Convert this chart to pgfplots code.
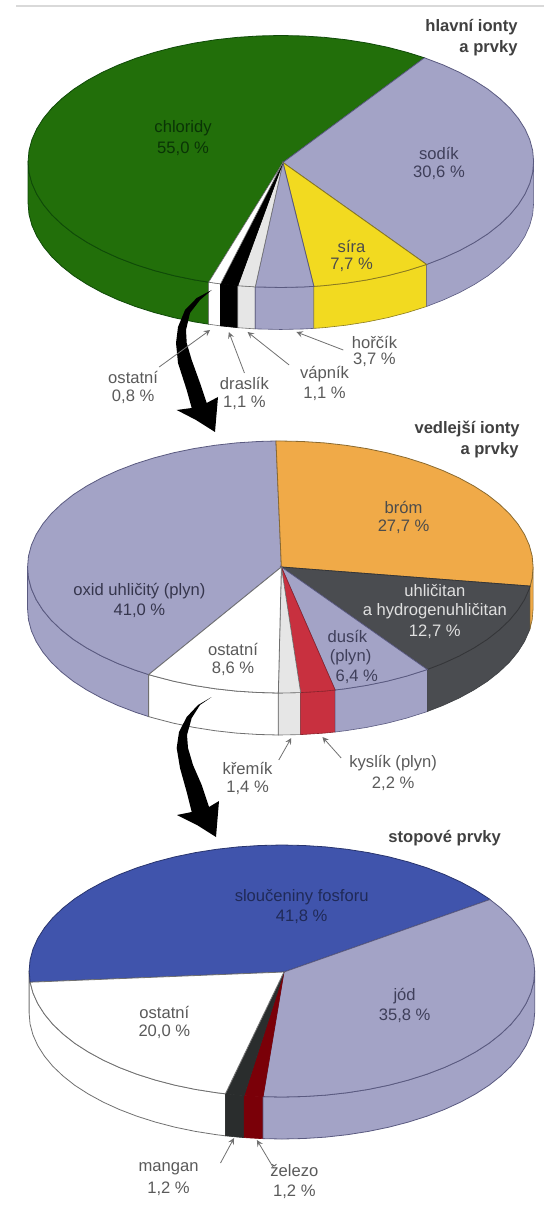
\documentclass[border=0pt]{standalone}
\usepackage{fontspec}
\setmainfont{Liberation Sans}
\usepackage{pgfplots}
\pgfplotsset{compat=1.18}
\definecolor{cgreen}{HTML}{226F0A}
\definecolor{cgreenl}{HTML}{0F4A08}
\definecolor{clil}{HTML}{A3A3C6}
\definecolor{clill}{HTML}{5A5A80}
\definecolor{cyel}{HTML}{F2DA20}
\definecolor{cyell}{HTML}{8A7A20}
\definecolor{corg}{HTML}{F0AA48}
\definecolor{corgl}{HTML}{8A6A30}
\definecolor{cdark}{HTML}{4A4C50}
\definecolor{cred}{HTML}{C8303F}
\definecolor{cblue}{HTML}{4054AC}
\definecolor{cbluel}{HTML}{28346E}
\definecolor{cdred}{HTML}{7A0008}
\definecolor{cblk}{HTML}{2A2D2D}
\definecolor{clgt}{HTML}{E6E6E6}
\definecolor{cline}{HTML}{707070}
\definecolor{ctxt}{HTML}{5A5A5A}
\pgfplotsset{page/.style={at={(0,0)},anchor=south west,scale only axis,width=272pt,height=606.5pt,hide axis,clip=false,y dir=reverse}}
\tikzset{lbl/.style={font=\fontsize{8.3}{9}\selectfont,text=ctxt,inner sep=0pt,anchor=center},
 ttl/.style={font=\fontsize{8.3}{9}\selectfont\bfseries,text=black!75,inner sep=0pt,anchor=east}}
\begin{document}
\begin{tikzpicture}
\useasboundingbox (0,0) rectangle (272pt,606.5pt);
% ---------- pie 1
\begin{axis}[page,xmin=-270,xmax=253,ymin=-161.5,ymax=1051.5]
\addplot[fill=cgreen,draw=cgreenl,line width=.4pt] coordinates {(-69.4,120.7)(-83.1,118.4)(-102.7,114.2)(-121.5,109.1)(-139.4,103.2)(-156.2,96.5)(-171.8,89.1)(-186.1,81)(-199.1,72.3)(-210.4,63)(-220.2,53.3)(-228.3,43.1)(-234.7,32.6)(-239.3,21.9)(-242.1,11)(-243,0)(-243,42)(-242.1,53)(-239.3,63.9)(-234.7,74.6)(-228.3,85.1)(-220.2,95.3)(-210.4,105)(-199.1,114.3)(-186.1,123)(-171.8,131.1)(-156.2,138.5)(-139.4,145.2)(-121.5,151.1)(-102.7,156.2)(-83.1,160.4)(-69.4,162.7)} -- cycle;
\addplot[fill=white,draw=cline,line width=.3pt] coordinates {(-69.4,120.7)(-58,122.4)(-58,164.4)(-69.4,162.7)} -- cycle;
\addplot[fill=black,draw=black,line width=.3pt] coordinates {(-58,122.4)(-41.4,124.2)(-41.4,166.2)(-58,164.4)} -- cycle;
\addplot[fill=clgt,draw=cline,line width=.3pt] coordinates {(-41.4,124.2)(-24.6,125.4)(-24.6,167.4)(-41.4,166.2)} -- cycle;
\addplot[fill=clil,draw=clill,line width=.3pt] coordinates {(-24.6,125.4)(-21.2,125.5)(0,126)(21.2,125.5)(31.7,124.9)(31.7,166.9)(21.2,167.5)(0,168)(-21.2,167.5)(-24.6,167.4)} -- cycle;
\addplot[fill=cyel,draw=cyell,line width=.3pt] coordinates {(31.7,124.9)(42.2,124.1)(62.9,121.7)(83.1,118.4)(102.7,114.2)(121.5,109.1)(140.1,103)(140.1,145)(121.5,151.1)(102.7,156.2)(83.1,160.4)(62.9,163.7)(42.2,166.1)(31.7,166.9)} -- cycle;
\addplot[fill=clil,draw=clill,line width=.3pt] coordinates {(243,0)(242.1,11)(239.3,21.9)(234.7,32.6)(228.3,43.1)(220.2,53.3)(210.4,63)(199.1,72.3)(186.1,81)(171.8,89.1)(156.2,96.5)(140.1,103)(140.1,145)(156.2,138.5)(171.8,131.1)(186.1,123)(199.1,114.3)(210.4,105)(220.2,95.3)(228.3,85.1)(234.7,74.6)(239.3,63.9)(242.1,53)(243,42)} -- cycle;
% tops
\addplot[fill=cgreen,draw=cgreenl,line width=.4pt] coordinates {(2,1)(-69.4,120.7)(-83.1,118.4)(-102.7,114.2)(-121.5,109.1)(-139.4,103.2)(-156.2,96.5)(-171.8,89.1)(-186.1,81)(-199.1,72.3)(-210.4,63)(-220.2,53.3)(-228.3,43.1)(-234.7,32.6)(-239.3,21.9)(-242.1,11)(-243,0)(-242.1,-11)(-239.3,-21.9)(-234.7,-32.6)(-228.3,-43.1)(-220.2,-53.3)(-210.4,-63)(-199.1,-72.3)(-186.1,-81)(-171.8,-89.1)(-156.2,-96.5)(-139.4,-103.2)(-121.5,-109.1)(-102.7,-114.2)(-83.1,-118.4)(-62.9,-121.7)(-42.2,-124.1)(-21.2,-125.5)(0,-126)(21.2,-125.5)(42.2,-124.1)(62.9,-121.7)(83.1,-118.4)(102.7,-114.2)(121.5,-109.1)(138,-103.7)} -- cycle;
\addplot[fill=clil,draw=clill,line width=.4pt] coordinates {(2,1)(138,-103.7)(156.2,-96.5)(171.8,-89.1)(186.1,-81)(199.1,-72.3)(210.4,-63)(220.2,-53.3)(228.3,-43.1)(234.7,-32.6)(239.3,-21.9)(242.1,-11)(243,0)(242.1,11)(239.3,21.9)(234.7,32.6)(228.3,43.1)(220.2,53.3)(210.4,63)(199.1,72.3)(186.1,81)(171.8,89.1)(156.2,96.5)(140.1,103)} -- cycle;
\addplot[fill=cyel,draw=cyell,line width=.4pt] coordinates {(2,1)(140.1,103)(121.5,109.1)(102.7,114.2)(83.1,118.4)(62.9,121.7)(42.2,124.1)(31.7,124.9)} -- cycle;
\addplot[fill=clil,draw=clill,line width=.4pt] coordinates {(2,1)(31.7,124.9)(21.2,125.5)(0,126)(-21.2,125.5)(-24.6,125.4)} -- cycle;
\addplot[fill=clgt,draw=cline,line width=.3pt] coordinates {(2,1)(-24.6,125.4)(-41.4,124.2)} -- cycle;
\addplot[fill=black,draw=black,line width=.3pt] coordinates {(2,1)(-41.4,124.2)(-58,122.4)} -- cycle;
\addplot[fill=white,draw=cline,line width=.3pt] coordinates {(2,1)(-58,122.4)(-69.4,120.7)} -- cycle;
\end{axis}
% ---------- pie 2
\begin{axis}[page,xmin=-269.5,xmax=253.5,ymin=-567,ymax=646]
\addplot[fill=clil,draw=clill,line width=.4pt] coordinates {(-126.6,107.6)(-139.4,103.2)(-156.2,96.5)(-171.8,89.1)(-186.1,81)(-199.1,72.3)(-210.4,63)(-220.2,53.3)(-228.3,43.1)(-234.7,32.6)(-239.3,21.9)(-242.1,11)(-243,0)(-243,42)(-242.1,53)(-239.3,63.9)(-234.7,74.6)(-228.3,85.1)(-220.2,95.3)(-210.4,105)(-199.1,114.3)(-186.1,123)(-171.8,131.1)(-156.2,138.5)(-139.4,145.2)(-126.6,149.6)} -- cycle;
\addplot[fill=white,draw=cline,line width=.4pt] coordinates {(-1.9,126)(-21.2,125.5)(-42.2,124.1)(-62.9,121.7)(-83.1,118.4)(-102.7,114.2)(-121.5,109.1)(-126.6,107.6)(-126.6,149.6)(-121.5,151.1)(-102.7,156.2)(-83.1,160.4)(-62.9,163.7)(-42.2,166.1)(-21.2,167.5)(-1.9,168)} -- cycle;
\addplot[fill=clgt,draw=cline,line width=.3pt] coordinates {(-1.9,126)(0,126)(19.5,125.6)(19.5,167.6)(0,168)(-1.9,168)} -- cycle;
\addplot[fill=cred,draw=cred!70!black,line width=.3pt] coordinates {(19.5,125.6)(21.2,125.5)(42.2,124.1)(52.7,123)(52.7,165)(42.2,166.1)(21.2,167.5)(19.5,167.6)} -- cycle;
\addplot[fill=clil,draw=clill,line width=.3pt] coordinates {(52.7,123)(62.9,121.7)(83.1,118.4)(102.7,114.2)(121.5,109.1)(139.4,103.2)(141.3,102.5)(141.3,144.5)(139.4,145.2)(121.5,151.1)(102.7,156.2)(83.1,160.4)(62.9,163.7)(52.7,165)} -- cycle;
\addplot[fill=cdark,draw=cdark!80!black,line width=.3pt] coordinates {(141.3,102.5)(156.2,96.5)(171.8,89.1)(186.1,81)(199.1,72.3)(210.4,63)(220.2,53.3)(228.3,43.1)(234.7,32.6)(239.3,21.9)(240.2,19.1)(240.2,61.1)(239.3,63.9)(234.7,74.6)(228.3,85.1)(220.2,95.3)(210.4,105)(199.1,114.3)(186.1,123)(171.8,131.1)(156.2,138.5)(141.3,144.5)} -- cycle;
\addplot[fill=corg,draw=corgl,line width=.3pt] coordinates {(243,0)(242.1,11)(240.2,19.1)(240.2,61.1)(242.1,53)(243,42)} -- cycle;
% tops
\addplot[fill=clil,draw=clill,line width=.4pt] coordinates {(1,0)(-126.6,107.6)(-139.4,103.2)(-156.2,96.5)(-171.8,89.1)(-186.1,81)(-199.1,72.3)(-210.4,63)(-220.2,53.3)(-228.3,43.1)(-234.7,32.6)(-239.3,21.9)(-242.1,11)(-243,0)(-242.1,-11)(-239.3,-21.9)(-234.7,-32.6)(-228.3,-43.1)(-220.2,-53.3)(-210.4,-63)(-199.1,-72.3)(-186.1,-81)(-171.8,-89.1)(-156.2,-96.5)(-139.4,-103.2)(-121.5,-109.1)(-102.7,-114.2)(-83.1,-118.4)(-62.9,-121.7)(-42.2,-124.1)(-21.2,-125.5)(-4.2,-126)} -- cycle;
\addplot[fill=corg,draw=corgl,line width=.4pt] coordinates {(1,0)(-4.2,-126)(0,-126)(21.2,-125.5)(42.2,-124.1)(62.9,-121.7)(83.1,-118.4)(102.7,-114.2)(121.5,-109.1)(139.4,-103.2)(156.2,-96.5)(171.8,-89.1)(186.1,-81)(199.1,-72.3)(210.4,-63)(220.2,-53.3)(228.3,-43.1)(234.7,-32.6)(239.3,-21.9)(242.1,-11)(243,0)(242.1,11)(240.2,19.1)} -- cycle;
\addplot[fill=cdark,draw=cdark!70!black,line width=.4pt] coordinates {(1,0)(240.2,19.1)(239.3,21.9)(234.7,32.6)(228.3,43.1)(220.2,53.3)(210.4,63)(199.1,72.3)(186.1,81)(171.8,89.1)(156.2,96.5)(141.3,102.5)} -- cycle;
\addplot[fill=clil,draw=clill,line width=.4pt] coordinates {(1,0)(141.3,102.5)(139.4,103.2)(121.5,109.1)(102.7,114.2)(83.1,118.4)(62.9,121.7)(52.7,123)} -- cycle;
\addplot[fill=cred,draw=cred!70!black,line width=.3pt] coordinates {(1,0)(52.7,123)(42.2,124.1)(21.2,125.5)(19.5,125.6)} -- cycle;
\addplot[fill=clgt,draw=cline,line width=.3pt] coordinates {(1,0)(19.5,125.6)(0,126)(-1.9,126)} -- cycle;
\addplot[fill=white,draw=cline,line width=.4pt] coordinates {(1,0)(-1.9,126)(-21.2,125.5)(-42.2,124.1)(-62.9,121.7)(-83.1,118.4)(-102.7,114.2)(-121.5,109.1)(-126.6,107.6)} -- cycle;
\end{axis}
% ---------- pie 3
\begin{axis}[page,xmin=-271,xmax=252,ymin=-971,ymax=242]
\addplot[fill=white,draw=cline,line width=.4pt] coordinates {(-54.3,122.8)(-62.9,121.7)(-83.1,118.4)(-102.7,114.2)(-121.5,109.1)(-139.4,103.2)(-156.2,96.5)(-171.8,89.1)(-186.1,81)(-199.1,72.3)(-210.4,63)(-220.2,53.3)(-228.3,43.1)(-234.7,32.6)(-239.3,21.9)(-242.1,11)(-243,0)(-243,42)(-242.1,53)(-239.3,63.9)(-234.7,74.6)(-228.3,85.1)(-220.2,95.3)(-210.4,105)(-199.1,114.3)(-186.1,123)(-171.8,131.1)(-156.2,138.5)(-139.4,145.2)(-121.5,151.1)(-102.7,156.2)(-83.1,160.4)(-62.9,163.7)(-54.3,164.8)} -- cycle;
\addplot[fill=cblk,draw=cblk,line width=.3pt] coordinates {(-54.3,122.8)(-42.2,124.1)(-36.3,124.6)(-36.3,166.6)(-42.2,166.1)(-54.3,164.8)} -- cycle;
\addplot[fill=cdred,draw=cdred,line width=.3pt] coordinates {(-36.3,124.6)(-21.2,125.5)(-18.1,125.6)(-18.1,167.6)(-21.2,167.5)(-36.3,166.6)} -- cycle;
\addplot[fill=clil,draw=clill,line width=.4pt] coordinates {(-18.1,125.6)(0,126)(21.2,125.5)(42.2,124.1)(62.9,121.7)(83.1,118.4)(102.7,114.2)(121.5,109.1)(139.4,103.2)(156.2,96.5)(171.8,89.1)(186.1,81)(199.1,72.3)(210.4,63)(220.2,53.3)(228.3,43.1)(234.7,32.6)(239.3,21.9)(242.1,11)(243,0)(243,42)(242.1,53)(239.3,63.9)(234.7,74.6)(228.3,85.1)(220.2,95.3)(210.4,105)(199.1,114.3)(186.1,123)(171.8,131.1)(156.2,138.5)(139.4,145.2)(121.5,151.1)(102.7,156.2)(83.1,160.4)(62.9,163.7)(42.2,166.1)(21.2,167.5)(0,168)(-18.1,167.6)} -- cycle;
% tops
\addplot[fill=cblue,draw=cbluel,line width=.4pt] coordinates {(2,1)(-242,11.2)(-243,0)(-242.1,-11)(-239.3,-21.9)(-234.7,-32.6)(-228.3,-43.1)(-220.2,-53.3)(-210.4,-63)(-199.1,-72.3)(-186.1,-81)(-171.8,-89.1)(-156.2,-96.5)(-139.4,-103.2)(-121.5,-109.1)(-102.7,-114.2)(-83.1,-118.4)(-62.9,-121.7)(-42.2,-124.1)(-21.2,-125.5)(0,-126)(21.2,-125.5)(42.2,-124.1)(62.9,-121.7)(83.1,-118.4)(102.7,-114.2)(121.5,-109.1)(139.4,-103.2)(156.2,-96.5)(171.8,-89.1)(186.1,-81)(199.1,-72.3)(200,-71.5)} -- cycle;
\addplot[fill=clil,draw=clill,line width=.4pt] coordinates {(2,1)(200,-71.5)(210.4,-63)(220.2,-53.3)(228.3,-43.1)(234.7,-32.6)(239.3,-21.9)(242.1,-11)(243,0)(242.1,11)(239.3,21.9)(234.7,32.6)(228.3,43.1)(220.2,53.3)(210.4,63)(199.1,72.3)(186.1,81)(171.8,89.1)(156.2,96.5)(139.4,103.2)(121.5,109.1)(102.7,114.2)(83.1,118.4)(62.9,121.7)(42.2,124.1)(21.2,125.5)(0,126)(-18.1,125.6)} -- cycle;
\addplot[fill=cdred,draw=cdred,line width=.3pt] coordinates {(2,1)(-18.1,125.6)(-21.2,125.5)(-36.3,124.6)} -- cycle;
\addplot[fill=cblk,draw=cblk,line width=.3pt] coordinates {(2,1)(-36.3,124.6)(-42.2,124.1)(-54.3,122.8)} -- cycle;
\addplot[fill=white,draw=cline,line width=.4pt] coordinates {(2,1)(-54.3,122.8)(-62.9,121.7)(-83.1,118.4)(-102.7,114.2)(-121.5,109.1)(-139.4,103.2)(-156.2,96.5)(-171.8,89.1)(-186.1,81)(-199.1,72.3)(-210.4,63)(-220.2,53.3)(-228.3,43.1)(-234.7,32.6)(-239.3,21.9)(-242,11.2)} -- cycle;
\end{axis}
% ---------- big arrows (true image pixels)
\begin{axis}[page,xmin=0,xmax=544,ymin=0,ymax=1213]
\addplot[draw=black!15,line width=.6pt] coordinates {(16,6)(544,6)};
\addplot[fill=black,draw=none] coordinates {(211.7,290)(200,300)(190,313)(186,330)(186.7,343)(191.7,360)(200,383)(206.7,403)(218,397)(215,432)(196,420)(176.7,410)(191.7,408)(186.7,390)(178,363)(176,343)(178,327)(185,310)(196.7,298)} -- cycle;
\addplot[fill=black,draw=none] coordinates {(211.7,697)(200,705)(191.7,718)(187,735)(188,748)(193,765)(201.7,785)(209,807)(219,801)(216,837)(197,825)(177,815)(191.7,812)(186.7,792)(180,768)(176.7,748)(179,732)(186.7,717)(198,705)} -- cycle;
\end{axis}
% ---------- leaders and text
\begin{axis}[page,xmin=0,xmax=523,ymin=0,ymax=1213]
\addplot[cline,line width=.4pt,-stealth] coordinates {(153,367)(202,330)};
\addplot[cline,line width=.4pt,-stealth] coordinates {(235,373)(220,332)};
\addplot[cline,line width=.4pt,-stealth] coordinates {(278,365)(238,332)};
\addplot[cline,line width=.4pt,-stealth] coordinates {(330,350)(285,332)};
\addplot[cline,line width=.4pt,-stealth] coordinates {(268,760)(280,738)};
\addplot[cline,line width=.4pt,-stealth] coordinates {(328,758)(310,737)};
\addplot[cline,line width=.4pt,-stealth] coordinates {(212,1163)(225,1138)};
\addplot[cline,line width=.4pt,-stealth] coordinates {(263,1168)(247,1140)};
\node[ttl] at (axis cs:498,27) {hlavní ionty};
\node[ttl] at (axis cs:498,48) {a prvky};
\node[lbl,text=cgreenl!70!black] at (axis cs:176,128) {chloridy};
\node[lbl,text=cgreenl!70!black] at (axis cs:176,149) {55,0 \%};
\node[lbl,text=clill!70!black] at (axis cs:422,153) {sodík};
\node[lbl,text=clill!70!black] at (axis cs:422,173) {30,6 \%};
\node[lbl,text=black!70] at (axis cs:338,246) {síra};
\node[lbl,text=black!70] at (axis cs:338,265) {7,7 \%};
\node[lbl] at (axis cs:360,342) {hořčík};
\node[lbl] at (axis cs:360,360) {3,7 \%};
\node[lbl] at (axis cs:312,374) {vápník};
\node[lbl] at (axis cs:312,394) {1,1 \%};
\node[lbl] at (axis cs:235,383) {draslík};
\node[lbl] at (axis cs:235,403) {1,1 \%};
\node[lbl] at (axis cs:128,377) {ostatní};
\node[lbl] at (axis cs:128,397) {0,8 \%};
\node[ttl] at (axis cs:500,429) {vedlejší ionty};
\node[ttl] at (axis cs:499,450) {a prvky};
\node[lbl,text=black!70] at (axis cs:388,507) {bróm};
\node[lbl,text=black!70] at (axis cs:388,527) {27,7 \%};
\node[lbl,text=black!12] at (axis cs:418,591) {uhličitan};
\node[lbl,text=black!12] at (axis cs:418,611) {a hydrogenuhličitan};
\node[lbl,text=black!12] at (axis cs:418,632) {12,7 \%};
\node[lbl,text=clill!70!black] at (axis cs:334,636) {dusík};
\node[lbl,text=clill!70!black] at (axis cs:337,657) {(plyn)};
\node[lbl,text=clill!70!black] at (axis cs:343,677) {6,4 \%};
\node[lbl] at (axis cs:224,649) {ostatní};
\node[lbl] at (axis cs:224,669) {8,6 \%};
\node[lbl,text=clill!60!black] at (axis cs:134,591) {oxid uhličitý (plyn)};
\node[lbl,text=clill!60!black] at (axis cs:134,611) {41,0 \%};
\node[lbl] at (axis cs:238,768) {křemík};
\node[lbl] at (axis cs:238,788) {1,4 \%};
\node[lbl] at (axis cs:378,763) {kyslík (plyn)};
\node[lbl] at (axis cs:378,784) {2,2 \%};
\node[ttl] at (axis cs:482,838) {stopové prvky};
\node[lbl,text=cbluel!80!black] at (axis cs:290,897) {sloučeniny fosforu};
\node[lbl,text=cbluel!80!black] at (axis cs:290,917) {41,8 \%};
\node[lbl,text=clill!70!black] at (axis cs:389,996) {jód};
\node[lbl,text=clill!70!black] at (axis cs:389,1016) {35,8 \%};
\node[lbl] at (axis cs:158,1012) {ostatní};
\node[lbl] at (axis cs:158,1032) {20,0 \%};
\node[lbl] at (axis cs:162,1169) {mangan};
\node[lbl] at (axis cs:162,1189) {1,2 \%};
\node[lbl] at (axis cs:283,1171) {železo};
\node[lbl] at (axis cs:283,1192) {1,2 \%};
\end{axis}
\end{tikzpicture}
\end{document}
